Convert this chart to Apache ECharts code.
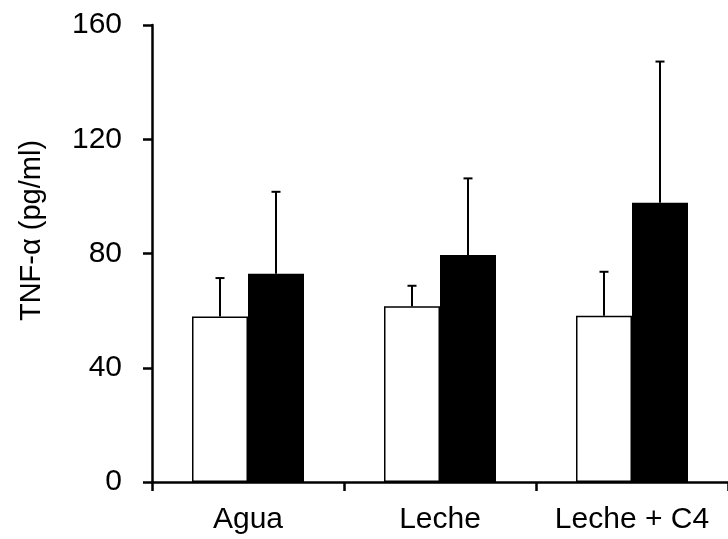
<!DOCTYPE html>
<html>
<head>
<meta charset="utf-8">
<script src="https://cdn.jsdelivr.net/npm/echarts@6/dist/echarts.min.js"></script>
<style>
  html, body { margin: 0; padding: 0; background: #fff; }
  #chart { width: 728px; height: 539px; }
</style>
</head>
<body>
<div id="chart"></div>
<script>
// TNF-alpha levels per treatment group (mean + SD, upper error only)
const categories = ['Agua', 'Leche', 'Leche + C4'];
const whiteMean = [57.9, 61.5, 58.2];
const whiteSD = [13.5, 7.2, 15.4];
const blackMean = [72.9, 79.5, 97.8];
const blackSD = [28.7, 26.8, 49.4];
const yTicks = [0, 40, 80, 120, 160];

const FONT = '"Liberation Sans", Arial, sans-serif';
const BAR_W = 56;
const CAP_HALF = 4.5;

function errorBars(means, sds, side) {
  return {
    type: 'custom',
    z: 5,
    encode: { x: 0, y: [1, 2] },
    data: means.map((m, i) => [i, m, m + sds[i]]),
    renderItem(params, api) {
      const i = api.value(0);
      const base = api.coord([i, api.value(1)]);
      const top = api.coord([i, api.value(2)]);
      const x = base[0] + side * BAR_W / 2;
      const st = { stroke: '#000', lineWidth: 2 };
      return {
        type: 'group',
        children: [
          { type: 'line', shape: { x1: x, y1: base[1], x2: x, y2: top[1] }, style: st },
          { type: 'line', shape: { x1: x - CAP_HALF, y1: top[1], x2: x + CAP_HALF, y2: top[1] }, style: st }
        ]
      };
    }
  };
}

const chart = echarts.init(document.getElementById('chart'), null, { renderer: 'canvas' });
chart.setOption({
  animation: false,
  backgroundColor: '#fff',
  // plot area runs slightly past the right edge of the canvas
  grid: { left: 152, top: 25, height: 457, width: 583.5, containLabel: false },
  xAxis: {
    type: 'category',
    data: categories,
    boundaryGap: true,
    axisLine: { lineStyle: { color: '#000', width: 2.5 } },
    axisTick: { show: true, length: 9, alignWithLabel: false, lineStyle: { color: '#000', width: 2.5 } },
    axisLabel: {
      interval: 0,
      margin: 23,
      fontFamily: FONT, fontSize: 30, color: '#000'
    }
  },
  yAxis: {
    type: 'value',
    min: yTicks[0],
    max: yTicks[yTicks.length - 1],
    interval: yTicks[1] - yTicks[0],
    name: 'TNF-\u03b1 (pg/ml)',
    nameLocation: 'middle',
    nameGap: 106,
    nameTextStyle: { fontFamily: FONT, fontSize: 29, color: '#000', padding: [0, 0, 0, 46] },
    splitLine: { show: false },
    axisLine: { show: true, lineStyle: { color: '#000', width: 2.5 } },
    axisTick: { show: true, length: 9, lineStyle: { color: '#000', width: 2.5 } },
    axisLabel: { margin: 30, fontFamily: FONT, fontSize: 30, color: '#000' }
  },
  series: [
    {
      type: 'bar',
      data: whiteMean,
      barWidth: BAR_W,
      barGap: '0%',
      itemStyle: { color: '#fff', borderColor: '#000', borderWidth: 1.5 },
      z: 2
    },
    {
      type: 'bar',
      data: blackMean,
      barWidth: BAR_W,
      barGap: '0%',
      itemStyle: { color: '#000', borderColor: '#000', borderWidth: 1.5 },
      z: 2
    },
    errorBars(whiteMean, whiteSD, -1),
    errorBars(blackMean, blackSD, 1)
  ]
});
</script>
</body>
</html>
